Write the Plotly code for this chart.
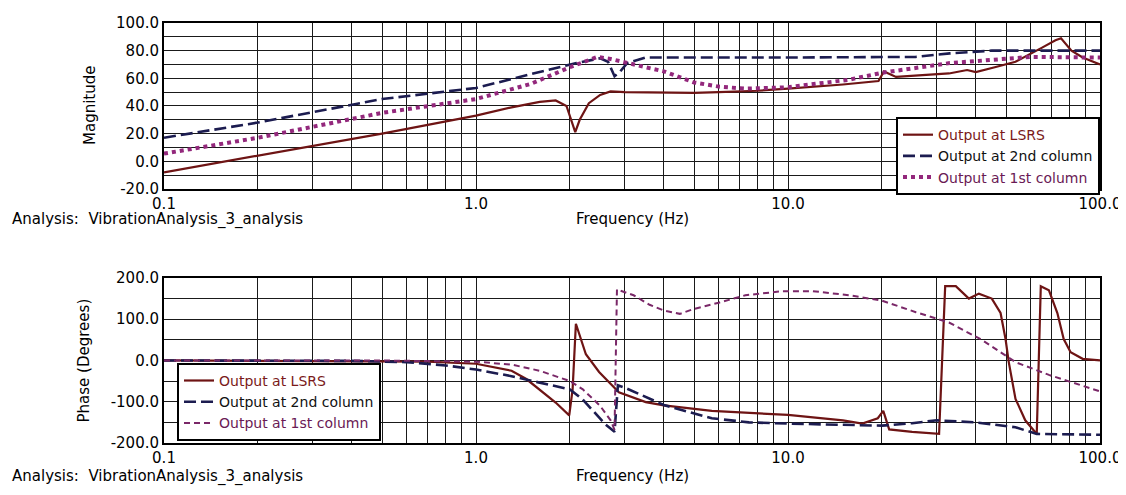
import plotly.graph_objects as go

# ---------------- data ----------------
# Magnitude, Output at LSRS
f_mag_lsrs = [0.1, 0.2, 0.5, 1.0, 1.3, 1.6, 1.8, 1.95, 2.02, 2.08, 2.15, 2.3, 2.5, 2.7, 3.0, 4.0, 5.0, 6.0,
              8.0, 10, 15, 19.5, 20.3, 22.2, 27, 32.8, 37.5, 40, 46, 53.6, 65, 72, 75, 81, 88, 100]
mag_lsrs = [-8, 4, 20, 33, 39, 43, 44, 40, 30, 21, 30, 42, 48, 50.5, 50, 49.5, 49.5, 50,
            51, 52.5, 55.5, 58, 65, 61, 62, 63.5, 66, 64.5, 68, 72, 82, 87.5, 89, 80, 75, 70]

# Magnitude, Output at 2nd column
f_mag_col2 = [0.1, 0.2, 0.5, 1.0, 1.5, 2.1, 2.5, 2.65, 2.78, 2.9, 3.05, 3.5, 10, 25.7, 33, 45, 100]
mag_col2 = [17, 28, 45, 53, 63, 71, 74.5, 72, 61.5, 65, 71, 75, 75, 75.5, 78, 80, 80]

# Magnitude, Output at 1st column
f_mag_col1 = [0.1, 0.2, 0.5, 1.0, 1.5, 2.0, 2.45, 2.7, 3.5, 4.0, 5.0, 6.0, 7.3, 10, 15.7, 20, 33, 47, 60, 100]
mag_col1 = [5.5, 17, 35, 45, 56, 68, 75.5, 74, 68, 65, 57, 54, 52.5, 53.5, 59, 64, 71, 74, 75.5, 75]

# Phase, Output at LSRS
f_ph_lsrs = [0.1, 0.5, 0.7, 1.0, 1.3, 1.45, 1.59, 1.8, 1.99, 2.04, 2.09, 2.25, 2.48, 2.87, 3.5, 4.0, 5.7, 7.5, 10,
             15, 17.3, 19.4, 20.2, 21.1, 25, 30.5, 31.9, 34.5, 36.2, 38, 40.9, 45, 48, 49.8, 51, 53.6,
             57.6, 62.7, 64.6, 68.6, 73, 76.5, 80.5, 88, 100]
ph_lsrs = [0, -1, -3, -8, -25, -45, -70, -102, -133, -70, 89, 15, -28, -77, -101, -109, -122, -127, -132,
           -145, -153, -140, -122, -167, -173, -178, 180, 180, 165, 150, 162, 150, 115, 52, -4, -93,
           -145, -178, 180, 170, 115, 52, 20, 4, 0]

# Phase, Output at 2nd column
f_ph_col2 = [0.1, 0.4, 0.6, 0.8, 1.0, 1.3, 1.48, 1.8, 2.0, 2.2, 2.4, 2.6, 2.78, 2.85, 3.0, 3.5, 4.0,
             5.7, 7.5, 10, 20, 25, 30, 40, 53.6, 62.7, 100]
ph_col2 = [0, -1, -4, -12, -22, -38, -48, -62, -70, -95, -125, -155, -173, -60, -66, -88, -108,
           -140, -150, -153, -158, -152, -145, -150, -162, -178, -180]

# Phase, Output at 1st column
f_ph_col1 = [0.1, 0.5, 1.0, 1.3, 1.6, 2.0, 2.2, 2.5, 2.7, 2.78, 2.83, 3.0, 3.2, 3.6, 4.0, 4.5, 5.0, 6.0,
             7.3, 9.6, 12, 15.7, 20, 25.7, 32.8, 41.8, 53.6, 68.6, 100]
ph_col1 = [0, 0, -3, -10, -25, -50, -70, -110, -145, -168, 172, 165, 158, 135, 121, 113, 125, 140,
           158, 168, 168, 158, 145, 117, 92, 50, -4, -35, -75]

# ticks
x_tick_vals = [0.1, 0.2, 0.3, 0.4, 0.5, 0.6, 0.7, 0.8, 0.9,
               1, 2, 3, 4, 5, 6, 7, 8, 9,
               10, 20, 30, 40, 50, 60, 70, 80, 90, 100]
x_tick_text = ["0.1", "", "", "", "", "", "", "", "",
               "1.0", "", "", "", "", "", "", "", "",
               "10.0", "", "", "", "", "", "", "", "", "100.0"]
mag_tick_vals = [-20, 0, 20, 40, 60, 80, 100]
mag_tick_text = ["-20.0", "0.0", "20.0", "40.0", "60.0", "80.0", "100.0"]
ph_tick_vals = [-200, -100, 0, 100, 200]
ph_tick_text = ["-200.0", "-100.0", "0.0", "100.0", "200.0"]

names = ["Output at LSRS", "Output at 2nd column", "Output at 1st column"]

# ---------------- style ----------------
C_LSRS = "#6e1414"
C_COL2 = "#1c1c50"
C_COL1 = "#93287c"
C_COL1_PH = "#7a2868"
TXT_LSRS = "#7a1a1a"
TXT_COL2 = "#111111"
TXT_COL1 = "#6a1a55"
FONT = "DejaVu Sans"

def lbl(t, c):
    return "<span style='color:%s'>%s</span>" % (c, t)

fig = go.Figure()

# magnitude
fig.add_trace(go.Scatter(x=f_mag_lsrs, y=mag_lsrs, mode="lines", name=lbl(names[0], TXT_LSRS),
                         line=dict(color=C_LSRS, width=2.2), xaxis="x", yaxis="y", legend="legend"))
fig.add_trace(go.Scatter(x=f_mag_col2, y=mag_col2, mode="lines", name=lbl(names[1], TXT_COL2),
                         line=dict(color=C_COL2, width=2.6, dash="12px,5px"), xaxis="x", yaxis="y",
                         legend="legend"))
fig.add_trace(go.Scatter(x=f_mag_col1, y=mag_col1, mode="lines", name=lbl(names[2], TXT_COL1),
                         line=dict(color=C_COL1, width=4, dash="dot"), xaxis="x", yaxis="y",
                         legend="legend"))
# phase
fig.add_trace(go.Scatter(x=f_ph_lsrs, y=ph_lsrs, mode="lines", name=lbl(names[0], TXT_LSRS),
                         line=dict(color=C_LSRS, width=2.2), xaxis="x2", yaxis="y2", legend="legend2"))
fig.add_trace(go.Scatter(x=f_ph_col2, y=ph_col2, mode="lines", name=lbl(names[1], TXT_COL2),
                         line=dict(color=C_COL2, width=2.6, dash="12px,5px"), xaxis="x2", yaxis="y2",
                         legend="legend2"))
fig.add_trace(go.Scatter(x=f_ph_col1, y=ph_col1, mode="lines", name=lbl(names[2], TXT_COL1),
                         line=dict(color=C_COL1_PH, width=2, dash="6px,4px"), xaxis="x2", yaxis="y2",
                         legend="legend2"))

GRID = "#1a1a1a"
xcommon = dict(type="log", range=[-1, 2], tickmode="array", tickvals=x_tick_vals, ticktext=x_tick_text,
               showgrid=True, gridcolor=GRID, gridwidth=1.4, showline=True, linecolor="black",
               linewidth=2, mirror=True, ticks="", zeroline=False, automargin=False,
               tickfont=dict(family=FONT, size=15, color="black"))
ycommon = dict(showgrid=True, gridcolor=GRID, gridwidth=1.4, showline=True, linecolor="black",
               linewidth=2, mirror=True, ticks="", zeroline=False, tickmode="array", automargin=False,
               tickfont=dict(family=FONT, size=15, color="black"))

legend_common = dict(bgcolor="white", bordercolor="black", borderwidth=2,
                     font=dict(family=FONT, size=14, color="black"), tracegroupgap=0,
                     itemwidth=30)

# the page body has an 8px margin, so the figure is sized/offset to compensate
fig.update_layout(
    width=1118, height=487,
    margin=dict(l=156, r=26, t=15, b=52, autoexpand=False),
    paper_bgcolor="white", plot_bgcolor="white",
    font=dict(family=FONT, size=15, color="black"),
    xaxis=dict(**xcommon, domain=[0, 1], anchor="y"),
    yaxis=dict(**ycommon, domain=[0.605, 1.0], anchor="x", range=[-20, 100],
               tickvals=mag_tick_vals, ticktext=mag_tick_text,
               minor=dict(dtick=10, tick0=0, showgrid=True, gridcolor=GRID, gridwidth=1.4)),
    xaxis2=dict(**xcommon, domain=[0, 1], anchor="y2"),
    yaxis2=dict(**ycommon, domain=[0, 0.393], anchor="x2", range=[-200, 200],
                tickvals=ph_tick_vals, ticktext=ph_tick_text,
                minor=dict(dtick=50, tick0=0, showgrid=True, gridcolor=GRID, gridwidth=1.4)),
    legend=dict(**legend_common, x=1.0, xanchor="right", y=0.776, yanchor="top"),
    legend2=dict(**legend_common, x=0.0139, xanchor="left", y=0.005, yanchor="bottom"),
    showlegend=True,
)

ann_font = dict(family=FONT, size=15, color="black")
analysis_text = "Analysis:\u00a0 VibrationAnalysis_3_analysis"
for yy in [0.533, -0.0786]:
    fig.add_annotation(text=analysis_text, xref="paper", yref="paper", x=-0.1645, y=yy,
                       xanchor="left", yanchor="middle", showarrow=False, font=ann_font)
    fig.add_annotation(text="Frequency (Hz)", xref="paper", yref="paper", x=0.5, y=yy,
                       xanchor="center", yanchor="middle", showarrow=False, font=ann_font)
fig.add_annotation(text="Magnitude", xref="paper", yref="paper", x=-0.079, y=0.8025, textangle=-90,
                   xanchor="center", yanchor="middle", showarrow=False, font=ann_font)
fig.add_annotation(text="Phase (Degrees)", xref="paper", yref="paper", x=-0.0855, y=0.1965,
                   textangle=-90, xanchor="center", yanchor="middle", showarrow=False, font=ann_font)

fig.write_html("out.html")
